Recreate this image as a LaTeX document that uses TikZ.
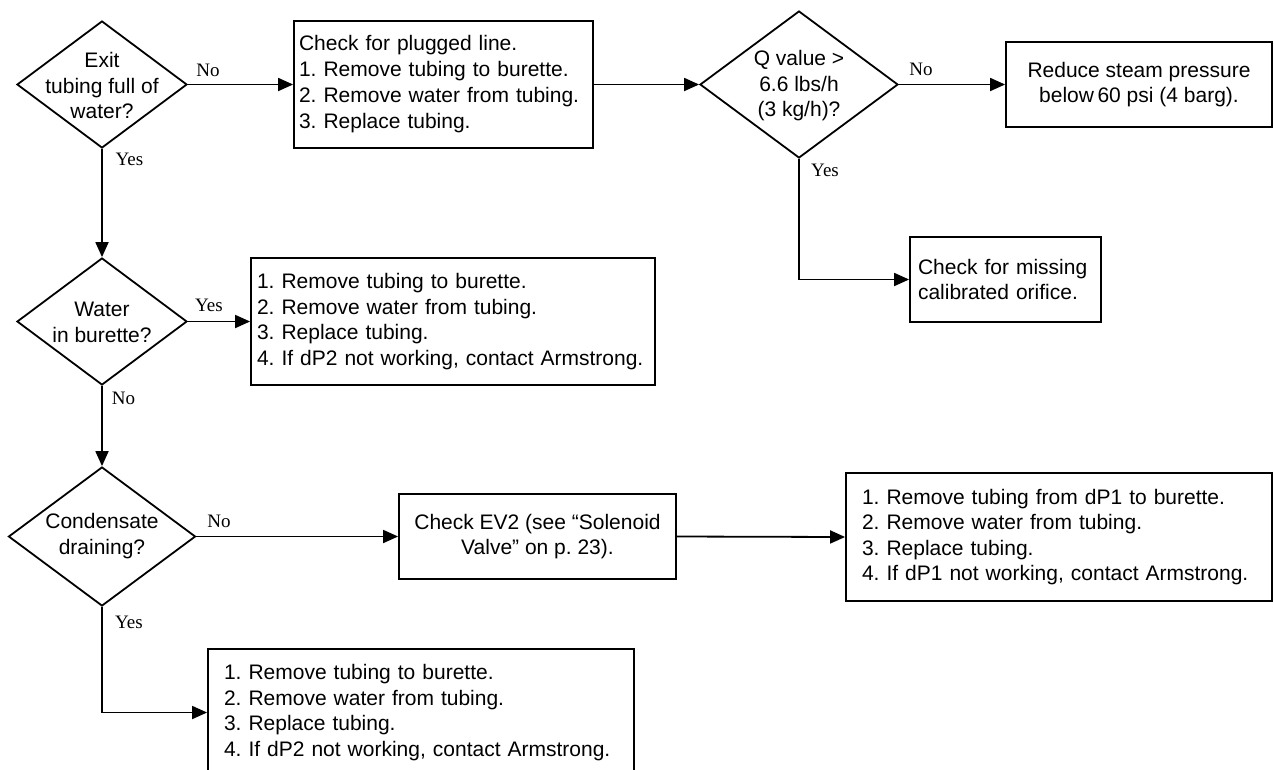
\documentclass[tikz,border=0pt]{standalone}
\usepackage{fontspec}
\setmainfont{Liberation Sans}
\newfontfamily\labelfont{Liberation Serif}
\usetikzlibrary{shapes.geometric,arrows.meta}
\hyphenpenalty=10000
\exhyphenpenalty=10000
\frenchspacing
\begin{document}
\begin{tikzpicture}[x=1pt,y=-1pt,
  every node/.style={font=\fontsize{21}{25.5}\selectfont},
  decision/.style={diamond,draw,line width=1.8pt,inner sep=0pt},
  dtext/.style={align=center,inner sep=0pt},
  stepbox/.style={rectangle,draw,line width=1.8pt,inner ysep=0pt},
  listbox/.style={stepbox,align=left},
  lbl/.style={font=\labelfont\fontsize{19}{22}\selectfont,inner sep=0pt},
  arr/.style={line width=1.8pt,-{Triangle[length=15pt,width=13pt]}}
]
\clip (0,0) rectangle (1274,769);

% decisions
\node[decision,minimum width=170pt,minimum height=127pt] (d1) at (102,84.5) {};
\node[dtext] (d1t) at (102,85.5) {Exit\\tubing full of\\water?};
\node[decision,minimum width=198pt,minimum height=147pt] (d2) at (799,84.5) {};
\node[dtext] (d2t) at (799,86) {Q value >\\6.6 lbs/h\\(3 kg/h)?};
\node[decision,minimum width=170pt,minimum height=127pt] (d3) at (102,321.5) {};
\node[dtext] (d3t) at (102,322.5) {Water\\in burette?};
\node[decision,minimum width=187pt,minimum height=139pt] (d4) at (102,536.5) {};
\node[dtext] (d4t) at (102,536) {Condensate\\draining?};

% action boxes
\node[listbox,font=\fontsize{21}{26}\selectfont,text width=289pt,inner xsep=5pt,minimum height=127pt] (b1) at (443.5,84.5)
  {Check for plugged line.\\1. Remove tubing to burette.\\2. Remove water from tubing.\\3. Replace tubing.};
\node[stepbox,align=center,minimum width=266pt,minimum height=85pt] (b2) at (1139,84.5)
  {Reduce steam pressure\\below\,60 psi (4 barg).};
\node[listbox,text width=175pt,inner xsep=8pt,minimum height=85pt] (b3) at (1005.5,279.5)
  {Check for missing\\calibrated orifice.};
\node[listbox,text width=392pt,inner xsep=6pt,minimum height=127pt] (b4) at (453,321.5)
  {1. Remove tubing to burette.\\2. Remove water from tubing.\\3. Replace tubing.\\4. If dP2 not working, contact Armstrong.};
\node[stepbox,align=center,minimum width=277pt,minimum height=85pt] (b5) at (537.5,536.5)
  {Check EV2 (see “Solenoid\\Valve” on p. 23).};
\node[listbox,text width=394pt,inner xsep=16pt,minimum height=128pt] (b6) at (1059,537)
  {1. Remove tubing from dP1 to burette.\\2. Remove water from tubing.\\3. Replace tubing.\\4. If dP1 not working, contact Armstrong.};
\node[listbox,text width=394pt,inner xsep=16pt,minimum height=127pt] (b7) at (421,712.5)
  {1. Remove tubing to burette.\\2. Remove water from tubing.\\3. Replace tubing.\\4. If dP2 not working, contact Armstrong.};

% connectors
\draw[arr] (d1.east) -- (b1.west);
\draw[arr] (b1.east) -- (d2.west);
\draw[arr] (d2.east) -- (b2.west);
\draw[arr] (d2.south) |- (b3.west);
\draw[arr] (d1.south) -- (d3.north);
\draw[arr] (d3.east) -- (b4.west);
\draw[arr] (d3.south) -- (d4.north);
\draw[arr] (d4.east) -- (b5.west);
\draw[arr] (b5.east) -- (b6.west);
\draw[arr] (d4.south) |- (b7.west);

% branch labels
\node[lbl] (l1) at (208,70) {No};
\node[lbl] (l2) at (129.5,159) {Yes};
\node[lbl] (l3) at (921,69) {No};
\node[lbl] (l4) at (825,170) {Yes};
\node[lbl] (l5) at (209,305) {Yes};
\node[lbl] (l6) at (123.5,398) {No};
\node[lbl] (l7) at (219,521) {No};
\node[lbl] (l8) at (129,622) {Yes};
\end{tikzpicture}
\end{document}
